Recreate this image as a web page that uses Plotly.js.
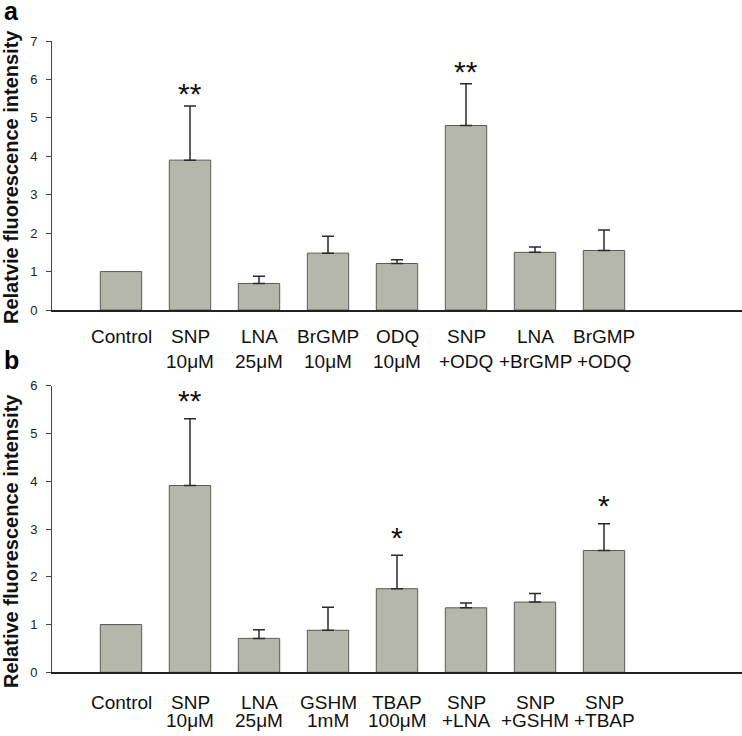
<!DOCTYPE html>
<html>
<head>
<meta charset="utf-8">
<script src="https://cdn.plot.ly/plotly-3.0.1.min.js"></script>
<style>html,body{margin:0;padding:0;background:#fff;}#chart{width:742px;height:736px;}</style>
</head>
<body>
<div id="chart"></div>
<script>
// Panel a
const labelsA1 = ['Control', 'SNP', 'LNA', 'BrGMP', 'ODQ', 'SNP', 'LNA', 'BrGMP'];
const labelsA2 = ['', '10μM', '25μM', '10μM', '10μM', '+ODQ', '+BrGMP', '+ODQ'];
const valuesA = [1.0, 3.90, 0.69, 1.48, 1.21, 4.80, 1.50, 1.55];
const errorsA = [null, 1.41, 0.19, 0.44, 0.10, 1.09, 0.14, 0.53];
const sigA = ['', '**', '', '', '', '**', '', ''];
// Panel b
const labelsB1 = ['Control', 'SNP', 'LNA', 'GSHM', 'TBAP', 'SNP', 'SNP', 'SNP'];
const labelsB2 = ['', '10μM', '25μM', '1mM', '100μM', '+LNA', '+GSHM', '+TBAP'];
const valuesB = [1.0, 3.91, 0.71, 0.88, 1.75, 1.35, 1.47, 2.55];
const errorsB = [null, 1.40, 0.18, 0.48, 0.70, 0.10, 0.18, 0.56];
const sigB = ['', '**', '', '', '*', '', '', '*'];
const titleA = 'Relatvie fluorescence intensity';
const titleB = 'Relative fluorescence intensity';

const idx = valuesA.map((_, i) => i);
const barColor = '#b6b7ab';
const edge = '#5a5a5a';
const errColor = '#2a2a2a';

function barTrace(vals, xa, ya) {
  return {
    type: 'bar', x: idx, y: vals, xaxis: xa, yaxis: ya, width: 0.6,
    marker: {color: barColor, line: {color: edge, width: 1}},
    hoverinfo: 'none', showlegend: false
  };
}
function errTrace(vals, errs, xa, ya) {
  return {
    type: 'scatter', mode: 'markers', x: idx, y: vals.map((v, i) => errs[i] == null ? null : v),
    xaxis: xa, yaxis: ya, marker: {size: 1, opacity: 0},
    error_y: {type: 'data', symmetric: false, array: errs.map(e => e == null ? 0 : e),
              arrayminus: errs.map(() => 0), color: errColor, thickness: 1.5, width: 6},
    hoverinfo: 'none', showlegend: false, cliponaxis: false
  };
}

const font = 'Liberation Sans, Arial, sans-serif';
const ann = [];
function addLabels(l1, l2, xref, y1, y2) {
  l1.forEach((t, i) => ann.push({xref: xref, yref: 'paper', x: i, y: y1, text: t, showarrow: false,
    xanchor: 'center', yanchor: 'middle', font: {family: font, size: 19, color: '#111'}}));
  l2.forEach((t, i) => { if (t) ann.push({xref: xref, yref: 'paper', x: i, y: y2, text: t, showarrow: false,
    xanchor: 'center', yanchor: 'middle', font: {family: font, size: 19, color: '#111'}}); });
}
addLabels(labelsA1, labelsA2, 'x', 1 - 336 / 736, 1 - 361 / 736);
addLabels(labelsB1, labelsB2, 'x2', 1 - 702 / 736, 1 - 720 / 736);

function addSig(sig, vals, errs, xref, yref, shift) {
  sig.forEach((s, i) => { if (s) ann.push({xref: xref, yref: yref, x: i, y: vals[i] + (errs[i] || 0),
    text: s, showarrow: false, xanchor: 'center', yanchor: 'middle', yshift: shift,
    font: {family: font, size: 30, color: '#111'}}); });
}
addSig(sigA, valuesA, errorsA, 'x', 'y', 12);
addSig(sigB, valuesB, errorsB, 'x2', 'y2', 18);

const titleX = (11 - 52) / 690;
ann.push({xref: 'paper', yref: 'paper', x: titleX, y: 1 - 177 / 736, text: '<b>' + titleA + '</b>',
  textangle: -90, showarrow: false, xanchor: 'center', yanchor: 'middle', font: {family: font, size: 20, color: '#111'}});
ann.push({xref: 'paper', yref: 'paper', x: titleX, y: 1 - 541 / 736, text: '<b>' + titleB + '</b>',
  textangle: -90, showarrow: false, xanchor: 'center', yanchor: 'middle', font: {family: font, size: 20, color: '#111'}});
ann.push({xref: 'paper', yref: 'paper', x: (11 - 52) / 690, y: 1 - 11 / 736, text: '<b>a</b>', showarrow: false,
  xanchor: 'center', yanchor: 'middle', font: {family: font, size: 25, color: '#000'}});
ann.push({xref: 'paper', yref: 'paper', x: (11 - 52) / 690, y: 1 - 360 / 736, text: '<b>b</b>', showarrow: false,
  xanchor: 'center', yanchor: 'middle', font: {family: font, size: 25, color: '#000'}});

const xCommon = {range: [-1, 9], showticklabels: false, ticks: '', showgrid: false, zeroline: false,
  showline: true, linecolor: '#222', linewidth: 1.5, domain: [0, 1], fixedrange: true};
const yCommon = {showgrid: false, zeroline: false, showline: true, linecolor: '#444', linewidth: 1,
  ticks: 'outside', ticklen: 5, tickcolor: '#444', ticklabelstandoff: 6,
  tickfont: {family: font, size: 13, color: '#222'}, dtick: 1};

const layout = {
  width: 742, height: 736,
  margin: {l: 52, r: 0, t: 0, b: 0},
  paper_bgcolor: '#fff', plot_bgcolor: '#fff',
  xaxis: Object.assign({}, xCommon, {anchor: 'y'}),
  xaxis2: Object.assign({}, xCommon, {anchor: 'y2'}),
  yaxis: Object.assign({}, yCommon, {range: [0, 7], domain: [1 - 310 / 736, 1 - 41 / 736], anchor: 'x'}),
  yaxis2: Object.assign({}, yCommon, {range: [0, 6], domain: [1 - 672.3 / 736, 1 - 385.7 / 736], anchor: 'x2'}),
  annotations: ann
};

Plotly.newPlot('chart', [
  barTrace(valuesA, 'x', 'y'), errTrace(valuesA, errorsA, 'x', 'y'),
  barTrace(valuesB, 'x2', 'y2'), errTrace(valuesB, errorsB, 'x2', 'y2')
], layout, {displayModeBar: false, staticPlot: true});
</script>
</body>
</html>
